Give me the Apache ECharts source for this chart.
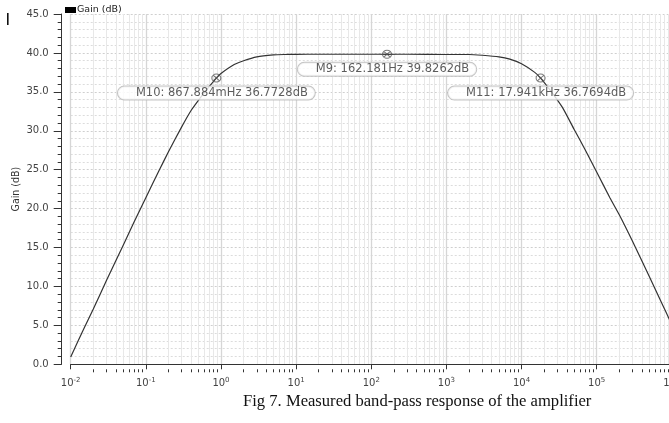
<!DOCTYPE html>
<html><head><meta charset="utf-8">
<script src="https://cdn.jsdelivr.net/npm/echarts@6/dist/echarts.min.js"></script>
<style>html,body{margin:0;padding:0;background:#fff}#c{width:669px;height:423px}</style>
</head><body><div id="c"></div>
<script>
// ---- data ----
const freqHz = [0.01, 0.015, 0.02, 0.03, 0.05, 0.07, 0.1, 0.15, 0.2, 0.3, 0.4, 0.5, 0.6, 0.7, 0.867884, 1, 1.5, 2, 3, 5, 7, 10, 20, 50, 100, 162.181, 300, 1000, 2000, 3000, 5000, 7000, 10000, 15000, 17941, 25000, 35000, 50000, 70000, 100000, 150000, 200000, 300000, 500000, 700000, 1000000];
const gainDb = [0.95, 4.6, 7.1, 10.8, 15.3, 18.3, 21.4, 24.9, 27.3, 30.5, 32.6, 33.9, 34.9, 35.7, 36.7728, 37.35, 38.5, 39.0, 39.5, 39.75, 39.8, 39.82, 39.83, 39.83, 39.83, 39.8262, 39.83, 39.8, 39.8, 39.7, 39.5, 39.2, 38.6, 37.5, 36.7694, 35.0, 33.0, 30.2, 27.6, 24.7, 21.4, 19.2, 15.8, 11.3, 8.3, 5.1];
const markerNames = ['M9', 'M10', 'M11'];
const markerFreqHz = [162.181, 0.867884, 17941];
const markerGainDb = [39.8262, 36.7728, 36.7694];
const decadeTicksHz = [0.01, 0.1, 1, 10, 100, 1000, 10000, 100000, 1000000];
const minorMultipliers = [2, 3, 4, 5, 6, 7, 8, 9];
const yMin = 0, yMax = 45, yStep = 5;
const seriesName = 'Gain (dB)';
const yAxisName = 'Gain (dB)';
const captionText = 'Fig 7. Measured band-pass response of the amplifier';

// ---- helpers ----
const minorTicksHz = [];
decadeTicksHz.slice(0, -1).forEach(d => minorMultipliers.forEach(m => minorTicksHz.push(d * m)));
function siFreq(v) {
  let unit = 'Hz', x = v;
  if (v < 1) { x = v * 1000; unit = 'mHz'; }
  else if (v >= 1000) { x = v / 1000; unit = 'kHz'; }
  return parseFloat(x.toPrecision(6)).toString() + unit;
}
const lineData = freqHz.map((f, i) => [f, gainDb[i]]);
const markerData = markerFreqHz.map((f, i) => [f, markerGainDb[i]]);

const FONT = 'DejaVu Sans';
const chart = echarts.init(document.getElementById('c'), null, {renderer: 'canvas'});
chart.setOption({
  animation: false,
  backgroundColor: '#fff',
  title: {
    text: captionText, left: 243, top: 393, padding: 0,
    textStyle: {fontFamily: 'Liberation Serif', fontSize: 16.6, fontWeight: 'normal', color: '#111'}
  },
  legend: {
    data: [seriesName], left: 65, top: 5, padding: 0, itemGap: 0,
    itemWidth: 11, itemHeight: 6, icon: 'rect',
    itemStyle: {color: '#000'},
    textStyle: {fontFamily: FONT, fontSize: 9.5, color: '#222', padding: [0, 0, 0, -4]}
  },
  graphic: [{type: 'rect', shape: {x: 7, y: 13, width: 1.6, height: 12}, style: {fill: '#111'}}],
  grid: {left: 70.7, right: -2.8, top: 14, bottom: 58.7, containLabel: false, outerBoundsMode: 'none'},
  xAxis: [{
    type: 'log', logBase: 10, min: 0.01, max: 1000000, position: 'bottom', offset: 5,
    axisLine: {lineStyle: {color: '#333', width: 1}},
    axisTick: {customValues: decadeTicksHz, length: 5, lineStyle: {color: '#333'}},
    axisLabel: {
      customValues: decadeTicksHz, margin: 7, hideOverlap: false,
      formatter: v => '{b|10}{s|' + Math.round(Math.log10(v)) + '}',
      rich: {
        b: {fontFamily: FONT, fontSize: 10, color: '#444'},
        s: {fontFamily: FONT, fontSize: 7, color: '#444', padding: [0, 0, 7, 0]}
      }
    },
    splitLine: {show: true, lineStyle: {color: '#d6d6d6', width: 1.3}}
  }, {
    type: 'log', logBase: 10, min: 0.01, max: 1000000, position: 'bottom', offset: 5,
    axisLine: {show: false},
    axisTick: {customValues: minorTicksHz, length: 3, lineStyle: {color: '#333'}},
    axisLabel: {show: false},
    splitLine: {show: true, lineStyle: {color: '#e8e8e8', width: 1}}
  }],
  yAxis: {
    type: 'value', min: yMin, max: yMax, interval: yStep, offset: 9,
    name: yAxisName, nameLocation: 'middle', nameRotate: 90, nameGap: 40, nameMoveOverlap: false,
    nameTextStyle: {fontFamily: 'DejaVu Sans Condensed', fontSize: 10.5, color: '#333'},
    axisLine: {show: true, lineStyle: {color: '#333', width: 1}},
    axisTick: {show: true, length: 8, lineStyle: {color: '#333'}},
    minorTick: {show: true, splitNumber: 5, length: 4, lineStyle: {color: '#333'}},
    axisLabel: {fontFamily: FONT, fontSize: 10, color: '#444', margin: 13, formatter: v => v.toFixed(1)},
    splitLine: {show: true, lineStyle: {color: '#cfcfcf', type: [2, 2], width: 1}},
    minorSplitLine: {show: true, lineStyle: {color: '#dcdcdc', type: [2, 2], width: 1}}
  },
  series: [{
    name: seriesName, type: 'line', data: lineData, xAxisIndex: 0,
    showSymbol: false, smooth: 0.2, z: 3,
    lineStyle: {color: '#333', width: 1.2}, itemStyle: {color: '#333'}
  }, {
    name: 'markers', type: 'scatter', data: markerData, xAxisIndex: 0, z: 4,
    symbol: 'path://M10,2A8,8 0 1,1 10,18A8,8 0 1,1 10,2ZM4.3,4.3L15.7,15.7M4.3,15.7L15.7,4.3',
    symbolSize: [9, 8],
    itemStyle: {color: 'rgba(0,0,0,0)', borderColor: '#555', borderWidth: 1},
    label: {
      show: true, position: 'bottom', distance: 4,
      formatter: p => markerNames[p.dataIndex] + ': ' + siFreq(markerFreqHz[p.dataIndex]) + ' ' + markerGainDb[p.dataIndex].toFixed(4) + 'dB',
      fontFamily: FONT, fontSize: 11.5, color: '#333', lineHeight: 11,
      backgroundColor: '#fff', borderColor: '#b5b5b5', borderWidth: 1, borderRadius: 7,
      padding: [1, 7, 1, 18]
    }
  }]
});
</script></body></html>
